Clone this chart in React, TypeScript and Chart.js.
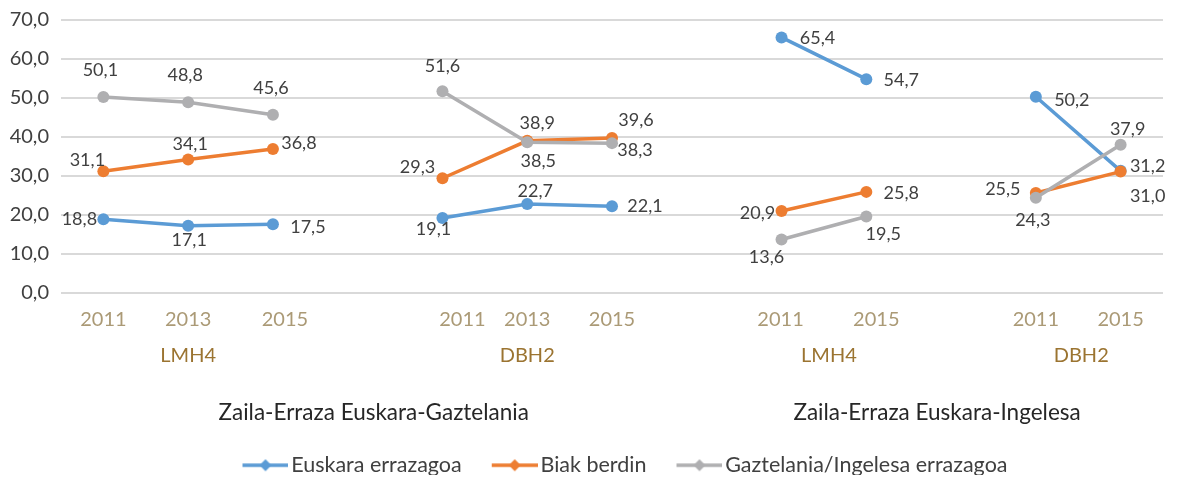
import React, { useEffect, useRef } from 'react';
import { Chart, registerables } from 'chart.js';

Chart.register(...registerables);

// ---------- data ----------
const categories = ['2011', '2013', '2015', '', '2011', '2013', '2015', '', '2011', '2015', '', '2011', '2015'];
const levelLabels = ['LMH4', 'DBH2', 'LMH4', 'DBH2'];
const levelRanges = [[0, 2], [4, 6], [8, 9], [11, 12]];
const topLabels = ['Zaila-Erraza Euskara-Gaztelania', 'Zaila-Erraza Euskara-Ingelesa'];
const topRanges = [[0, 6], [8, 12]];

const seriesNames = ['Euskara errazagoa', 'Biak berdin', 'Gaztelania/Ingelesa errazagoa'];
const euskaraErrazagoa = [18.8, 17.1, 17.5, null, 19.1, 22.7, 22.1, null, 65.4, 54.7, null, 50.2, 31.2];
const biakBerdin = [31.1, 34.1, 36.8, null, 29.3, 38.9, 39.6, null, 20.9, 25.8, null, 25.5, 31.0];
const gaztelaniaIngelesa = [50.1, 48.8, 45.6, null, 51.6, 38.5, 38.3, null, 13.6, 19.5, null, 24.3, 37.9];

const yTicks = [0, 10, 20, 30, 40, 50, 60, 70];

// ---------- style ----------
const colors = ['#5b9bd5', '#ed7d31', '#afafb1'];
const FONT = "Lato, 'Noto Sans', sans-serif";
// label centre offsets relative to each point (like datalabels align/offset)
const labelNudge = [
  [[-24, 0], [1, 14], [35, 3], null, [-9, 11], [8, -13], [33, 0], null, [36, 1], [35, 1], null, [36, 3], [27, -5]],
  [[-16, -11], [2, -15], [26, -6], null, [-25, -11], [10, -18], [24, -18], null, [-24, 2], [35, 1], null, [-33, -4], [27, 25]],
  [[-3, -27], [-3, -27], [-2, -26], null, [0, -25], [11, 19], [23, 7], null, [-15, 18], [17, 18], null, [-3, 22], [7, -16]],
];
const yearNudge = [0, 0, 12, 0, 20, 0, 0, 0, -1, 10, 0, 0, 0];
const levelNudge = [0, 0, 5, 3];
const topNudge = [16, -14];

const fmt = (v: number) => v.toFixed(1).replace('.', ',');

function makeMarker(color: string) {
  const c = document.createElement('canvas');
  c.width = 80;
  c.height = 14;
  const g = c.getContext('2d')!;
  g.strokeStyle = color;
  g.lineWidth = 3.5;
  g.beginPath();
  g.moveTo(34, 7);
  g.lineTo(80, 7);
  g.stroke();
  g.fillStyle = color;
  g.beginPath();
  g.moveTo(57, 1);
  g.lineTo(63, 7);
  g.lineTo(57, 13);
  g.lineTo(51, 7);
  g.closePath();
  g.fill();
  return c;
}

const labelsPlugin = {
  id: 'pointLabels',
  afterDatasetsDraw(chart: any) {
    const ctx = chart.ctx;
    ctx.save();
    ctx.font = `18px ${FONT}`;
    ctx.fillStyle = '#404040';
    ctx.textAlign = 'center';
    ctx.textBaseline = 'middle';
    chart.data.datasets.forEach((ds: any, i: number) => {
      const meta = chart.getDatasetMeta(i);
      ds.data.forEach((v: number | null, j: number) => {
        if (v == null) return;
        const pt = meta.data[j];
        const off = labelNudge[i][j] || [0, -20];
        ctx.fillText(fmt(v), pt.x + off[0], pt.y + off[1]);
      });
    });
    ctx.restore();
  },
};

const axisLabelsPlugin = {
  id: 'multiLevelAxis',
  afterDraw(chart: any) {
    const ctx = chart.ctx;
    const xs = chart.scales.x;
    const bottom = chart.chartArea.bottom;
    ctx.save();
    ctx.textAlign = 'center';
    ctx.textBaseline = 'middle';
    ctx.font = `20px ${FONT}`;
    ctx.fillStyle = '#ab9a76';
    categories.forEach((c, i) => {
      if (!c) return;
      ctx.fillText(c, xs.getPixelForValue(i) + yearNudge[i], bottom + 27);
    });
    ctx.fillStyle = '#9b7431';
    levelLabels.forEach((l, i) => {
      const [a, b] = levelRanges[i];
      const x = (xs.getPixelForValue(a) + xs.getPixelForValue(b)) / 2 + levelNudge[i];
      ctx.fillText(l, x, bottom + 63);
    });
    ctx.font = `22.5px ${FONT}`;
    ctx.fillStyle = '#262626';
    topLabels.forEach((l, i) => {
      const [a, b] = topRanges[i];
      const x = (xs.getPixelForValue(a) + xs.getPixelForValue(b)) / 2 + topNudge[i];
      ctx.fillText(l, x, bottom + 120);
    });
    ctx.restore();
  },
};

export default function App() {
  const ref = useRef<HTMLCanvasElement>(null);

  useEffect(() => {
    if (!ref.current) return;
    const markers = colors.map(makeMarker);
    const seriesData = [euskaraErrazagoa, biakBerdin, gaztelaniaIngelesa];
    const chart = new Chart(ref.current, {
      type: 'line',
      data: {
        labels: categories,
        datasets: seriesData.map((d, i) => ({
          label: seriesNames[i],
          data: d,
          borderColor: colors[i],
          backgroundColor: colors[i],
          borderWidth: 3.5,
          pointRadius: 6,
          pointHoverRadius: 6,
          pointBorderWidth: 0,
          pointBackgroundColor: colors[i],
          spanGaps: false,
          tension: 0,
          order: 2 - i,
        })),
      },
      options: {
        animation: false,
        responsive: true,
        maintainAspectRatio: false,
        events: [],
        layout: { padding: { top: 0, right: 0, bottom: -3, left: 0 } },
        scales: {
          x: {
            type: 'category',
            offset: true,
            grid: { display: false },
            border: { display: false },
            ticks: { display: false },
            afterFit: (s: any) => {
              s.height = 158;
            },
          },
          y: {
            min: 0,
            max: 70,
            afterBuildTicks: (s: any) => {
              s.ticks = yTicks.map((v) => ({ value: v }));
            },
            grid: { color: '#d9d9d9', lineWidth: 2, drawTicks: false },
            border: { display: false },
            ticks: {
              padding: 12,
              color: '#404040',
              font: { family: FONT, size: 20 },
              callback: (v: any) => fmt(Number(v)),
            },
            afterFit: (s: any) => {
              s.width = 53;
              s.paddingTop = 11.5;
              s.paddingBottom = 0;
            },
          },
        },
        plugins: {
          tooltip: { enabled: false },
          legend: {
            position: 'bottom',
            fullSize: false,
            labels: {
              usePointStyle: true,
              pointStyleWidth: 64,
              padding: 4,
              color: '#404040',
              font: { family: FONT, size: 21.5 },
              sort: (a: any, b: any) => a.datasetIndex - b.datasetIndex,
              generateLabels: (ch: any) => {
                const base = Chart.defaults.plugins.legend.labels.generateLabels(ch);
                return base.map((it: any) => ({ ...it, pointStyle: markers[it.datasetIndex], rotation: 0 }));
              },
            },
          },
        },
      },
      plugins: [labelsPlugin, axisLabelsPlugin],
    } as any);
    return () => chart.destroy();
  }, []);

  return (
    <div style={{ width: 1161, height: 475, position: 'relative', marginBottom: -8 }}>
      <canvas ref={ref} />
    </div>
  );
}
